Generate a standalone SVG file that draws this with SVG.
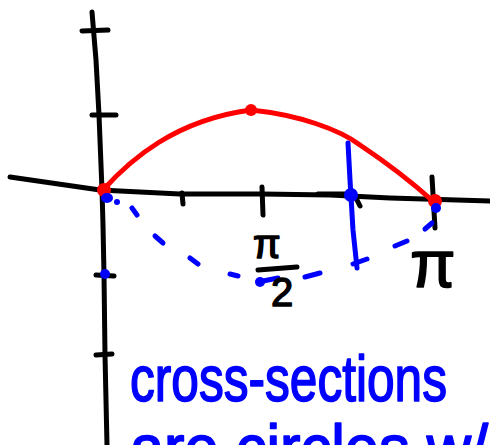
<svg xmlns="http://www.w3.org/2000/svg" width="490" height="445" viewBox="0 0 490 445">
<style>
.k{fill:none;stroke:#000;stroke-width:5;stroke-linecap:round;stroke-linejoin:round}
.r{fill:none;stroke:#ff0000;stroke-width:5;stroke-linecap:round;stroke-linejoin:round}
.b{fill:none;stroke:#0000ff;stroke-width:5;stroke-linecap:round;stroke-linejoin:round}
.bd{fill:#0000ff}
.rd{fill:#ff0000}
.lk{font-family:"Liberation Sans",Arial,sans-serif;fill:#000;stroke:#000;stroke-width:1.5;stroke-linejoin:round}
.lb{font-family:"Liberation Sans",Arial,sans-serif;fill:#0000ff;stroke:#0000ff;stroke-width:1.3;stroke-linejoin:round}
</style>
<rect width="490" height="445" fill="#fff"/>
<g id="axes">
<path class="k" d="M92,12 L96,60 L99,115 L102,190 L103,225 L104,275 L105,355 L107,445"/>
<path class="k" d="M10,177 L100,190 L180,194 L262,194 L330,195 L390,198 L490,201"/>
<path class="k" d="M82,31 L108,30 M92,115 L116,115 M96,275 L114,276 M96,355 L112,354"/>
<path class="k" d="M182,193 L183,204 M262,187 L263,215 M432,177 L435,228 M357,200 L360,206"/>
<path class="k" stroke-width="7" d="M318,194 L345,194"/>
</g>
<g id="curve">
<path class="r" d="M103,190 C130,160 175,120 251,110 C300,115 340,130 360,145 C390,165 415,185 434,202"/>
<circle class="rd" cx="104" cy="190" r="7"/>
<circle class="rd" cx="251" cy="110" r="6"/>
<circle class="rd" cx="435" cy="201" r="7"/>
</g>
<g id="cross-section">
<path class="b" d="M348,143 L350,180 L353,230 L357,268 M353,264 L367,259"/>
<circle class="bd" cx="351" cy="195" r="7"/>
</g>
<g id="dashed-half">
<ellipse class="bd" cx="107" cy="198" rx="6" ry="5"/>
<circle class="bd" cx="117" cy="202" r="3"/>
<circle class="bd" cx="105" cy="274" r="5"/>
<path class="b" d="M132,208 L137,215 M155,236 L163,243 M190,258 L198,264 M230,274 L238,276 M258,282 L278,278 M305,277 L320,273 M395,246 L407,241 M425,229 L432,223"/>
<circle class="bd" cx="260" cy="282" r="5"/>
<circle class="bd" cx="436" cy="208" r="5"/>
</g>
<g id="labels">
<text class="lk" x="253" y="258" font-size="40">π</text>
<path class="k" d="M258,270 L297,267"/>
<text class="lk" x="271" y="306" font-size="40">2</text>
<text class="lk" x="410" y="287" font-size="66">π</text>
<text class="lb" transform="translate(130,401) scale(1,1.28)" x="0" y="0" font-size="50" textLength="317" lengthAdjust="spacingAndGlyphs">cross-sections</text>
<text class="lb" transform="translate(130,470) scale(1,1.28)" x="0" y="0" font-size="50" textLength="358" lengthAdjust="spacingAndGlyphs">are circles w/</text>
</g>
</svg>
